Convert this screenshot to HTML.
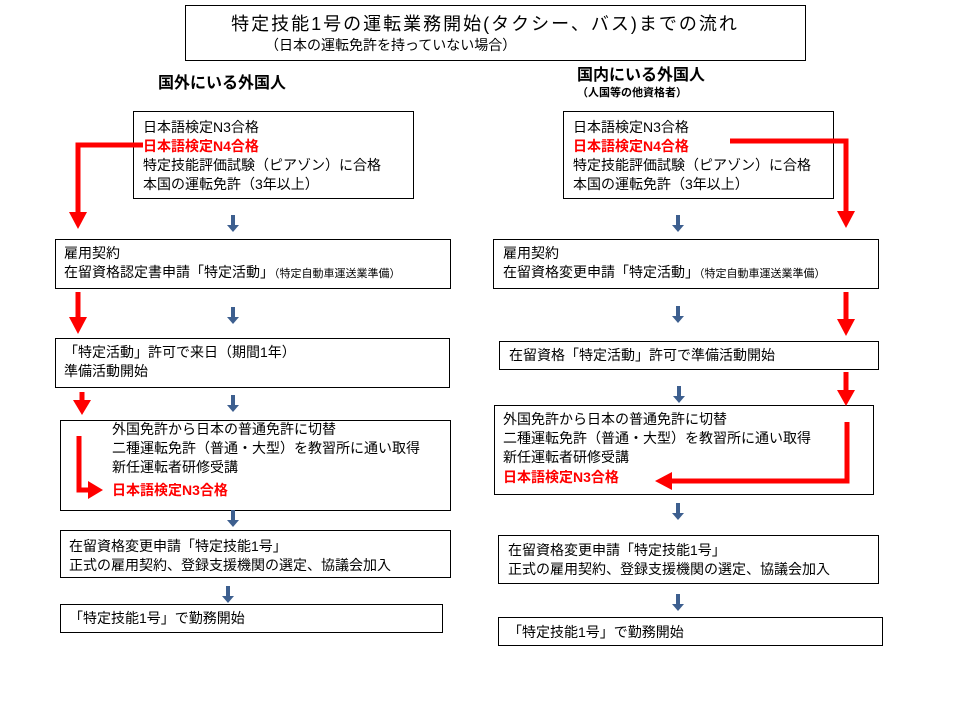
<!DOCTYPE html>
<html><head><meta charset="utf-8"><style>
html,body{margin:0;padding:0;background:#fff;}
svg text{font-family:"Liberation Sans","Noto Sans CJK JP",sans-serif;font-size:14px;fill:#000;}
.r{fill:#f00 !important;font-weight:bold;}
.b{font-weight:bold;}
</style></head><body>
<svg width="960" height="720" viewBox="0 0 960 720" xmlns="http://www.w3.org/2000/svg">
<g fill="#fff" stroke="#000" stroke-width="1">
<rect x="185.5" y="5.5" width="620" height="55"/>
<rect x="133.5" y="111.5" width="280" height="87"/>
<rect x="55.5" y="239.5" width="395" height="49"/>
<rect x="55.5" y="338.5" width="394" height="49"/>
<rect x="60.5" y="420.5" width="390" height="90"/>
<rect x="60.5" y="530.5" width="390" height="47"/>
<rect x="60.5" y="604.5" width="382" height="28"/>
<rect x="563.5" y="111.5" width="270" height="87"/>
<rect x="493.5" y="239.5" width="385" height="49"/>
<rect x="499.5" y="341.5" width="379" height="28"/>
<rect x="494.5" y="405.5" width="379" height="89"/>
<rect x="498.5" y="535.5" width="380" height="48"/>
<rect x="498.5" y="617.5" width="384" height="28"/>
</g>
<text x="485" y="30" text-anchor="middle" style="font-size:18px;letter-spacing:2px">特定技能1号の運転業務開始(タクシー、バス)までの流れ</text>
<text x="265" y="50" style="font-size:14px">（日本の運転免許を持っていない場合）</text>
<text x="158" y="88" class="b" style="font-size:16px">国外にいる外国人</text>
<text x="577" y="80" class="b" style="font-size:16px">国内にいる外国人</text>
<text x="577" y="96" class="b" style="font-size:11px">（人国等の他資格者）</text>

<g>
<text x="143" y="132">日本語検定N3合格</text>
<text x="143" y="151" class="r">日本語検定N4合格</text>
<text x="143" y="170">特定技能評価試験（ピアゾン）に合格</text>
<text x="143" y="189">本国の運転免許（3年以上）</text>
<text x="64" y="258">雇用契約</text>
<text x="64" y="277">在留資格認定書申請「特定活動」<tspan style="font-size:11px">（特定自動車運送業準備）</tspan></text>
<text x="64" y="357">「特定活動」許可で来日（期間1年）</text>
<text x="64" y="376">準備活動開始</text>
<text x="112" y="434">外国免許から日本の普通免許に切替</text>
<text x="112" y="453">二種運転免許（普通・大型）を教習所に通い取得</text>
<text x="112" y="472">新任運転者研修受講</text>
<text x="112" y="495" class="r">日本語検定N3合格</text>
<text x="69" y="551">在留資格変更申請「特定技能1号」</text>
<text x="69" y="570">正式の雇用契約、登録支援機関の選定、協議会加入</text>
<text x="69" y="623">「特定技能1号」で勤務開始</text>

<text x="573" y="132">日本語検定N3合格</text>
<text x="573" y="151" class="r">日本語検定N4合格</text>
<text x="573" y="170">特定技能評価試験（ピアゾン）に合格</text>
<text x="573" y="189">本国の運転免許（3年以上）</text>
<text x="503" y="258">雇用契約</text>
<text x="503" y="277">在留資格変更申請「特定活動」<tspan style="font-size:11px">（特定自動車運送業準備）</tspan></text>
<text x="509" y="360">在留資格「特定活動」許可で準備活動開始</text>
<text x="503" y="424">外国免許から日本の普通免許に切替</text>
<text x="503" y="443">二種運転免許（普通・大型）を教習所に通い取得</text>
<text x="503" y="462">新任運転者研修受講</text>
<text x="503" y="482" class="r">日本語検定N3合格</text>
<text x="508" y="555">在留資格変更申請「特定技能1号」</text>
<text x="508" y="574">正式の雇用契約、登録支援機関の選定、協議会加入</text>
<text x="508" y="637">「特定技能1号」で勤務開始</text>
</g>

<g fill="#3d5f8f">
<path d="M231 215h4v10h4l-6 7l-6-7h4z"/>
<path d="M231 307h4v10h4l-6 7l-6-7h4z"/>
<path d="M231 395h4v10h4l-6 7l-6-7h4z"/>
<path d="M231 510h4v10h4l-6 7l-6-7h4z"/>
<path d="M226 586h4v10h4l-6 7l-6-7h4z"/>
<path d="M676 215h4v10h4l-6 7l-6-7h4z"/>
<path d="M676 306h4v10h4l-6 7l-6-7h4z"/>
<path d="M677 386h4v10h4l-6 7l-6-7h4z"/>
<path d="M676 503h4v10h4l-6 7l-6-7h4z"/>
<path d="M676 594h4v10h4l-6 7l-6-7h4z"/>
</g>
<g fill="none" stroke="#f00" stroke-width="5">
<path d="M143 145H78V214"/>
<path d="M78 292V318"/>
<path d="M82 392V402"/>
<path d="M79 436V490H90"/>
<path d="M730 141H846V212"/>
<path d="M846 292V320"/>
<path d="M846 372V391"/>
<path d="M847 422V481H672"/>
</g>
<g fill="#f00">
<path d="M69 212h18l-9 17z"/>
<path d="M69 317h18l-9 17z"/>
<path d="M73 400h18l-9 15z"/>
<path d="M88 481v18l15-9z"/>
<path d="M837 211h18l-9 17z"/>
<path d="M837 319h18l-9 17z"/>
<path d="M837 390h18l-9 16z"/>
<path d="M672 472v18l-17-9z"/>
</g>
</svg>
</body></html>
